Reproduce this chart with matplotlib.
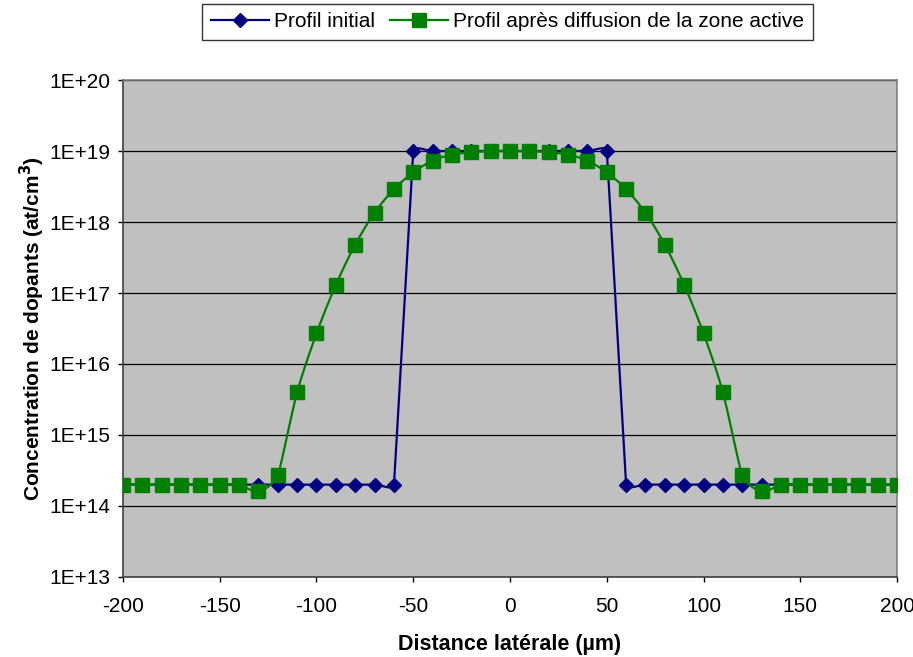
import numpy as np
import matplotlib
matplotlib.use("Agg")
import matplotlib.pyplot as plt
from matplotlib.lines import Line2D

plt.rcParams['font.family'] = ['Liberation Sans', 'DejaVu Sans']

# Data
distance = [-200, -190, -180, -170, -160, -150, -140, -130, -120, -110, -100,
            -90, -80, -70, -60, -50, -40, -30, -20, -10, 0,
            10, 20, 30, 40, 50, 60, 70, 80, 90, 100,
            110, 120, 130, 140, 150, 160, 170, 180, 190, 200]

profil_initial = [2e14, 2e14, 2e14, 2e14, 2e14, 2e14, 2e14, 2e14, 2e14, 2e14, 2e14,
                  2e14, 2e14, 2e14, 2e14, 1e19, 1e19, 1e19, 1e19, 1e19, 1e19,
                  1e19, 1e19, 1e19, 1e19, 1e19, 2e14, 2e14, 2e14, 2e14, 2e14,
                  2e14, 2e14, 2e14, 2e14, 2e14, 2e14, 2e14, 2e14, 2e14, 2e14]

profil_diffuse = [2e14, 2e14, 2e14, 2e14, 2e14, 2e14, 2e14, 1.6e14, 2.7e14, 4e15, 2.7e16,
                  1.3e17, 4.8e17, 1.35e18, 2.9e18, 5e18, 7.3e18, 8.9e18, 9.6e18, 1e19, 1e19,
                  1e19, 9.6e18, 8.9e18, 7.3e18, 5e18, 2.9e18, 1.35e18, 4.8e17, 1.3e17, 2.7e16,
                  4e15, 2.7e14, 1.6e14, 2e14, 2e14, 2e14, 2e14, 2e14, 2e14, 2e14]

x_ticks = [-200, -150, -100, -50, 0, 50, 100, 150, 200]
y_ticks = [1e13, 1e14, 1e15, 1e16, 1e17, 1e18, 1e19, 1e20]
y_labels = ["1E+13", "1E+14", "1E+15", "1E+16", "1E+17", "1E+18", "1E+19", "1E+20"]


# Excel-like smoothed line, built in approximate screen units
# (x: ~1.94 px per µm, y: ~71 px per decade)
def smooth(x, y, n=24, sx=1.935, sy=71.0):
    p = np.column_stack([np.asarray(x, float) * sx, np.log10(np.asarray(y, float)) * sy])
    m = len(p)
    seg = np.hypot(*(p[1:] - p[:-1]).T)
    tang = []
    for i in range(m):
        d = p[min(i + 1, m - 1)] - p[max(i - 1, 0)]
        tang.append(d / np.hypot(*d))
    t = np.linspace(0, 1, n)[:, None]
    pts = []
    for i in range(m - 1):
        l1 = min(seg[i], seg[i - 1]) if i > 0 else seg[i]
        l2 = min(seg[i], seg[i + 1]) if i + 1 < m - 1 else seg[i]
        c1 = p[i] + tang[i] * l1 / 3
        c2 = p[i + 1] - tang[i + 1] * l2 / 3
        b = ((1 - t) ** 3) * p[i] + 3 * ((1 - t) ** 2) * t * c1 + 3 * (1 - t) * t ** 2 * c2 + t ** 3 * p[i + 1]
        pts.append(b)
    pts = np.vstack(pts)
    return pts[:, 0] / sx, 10 ** (pts[:, 1] / sy)


fig = plt.figure(figsize=(9.13, 6.57), dpi=100)
ax = fig.add_axes([0.1347, 0.1218, 0.8478, 0.7564])
ax.set_facecolor('#C0C0C0')

navy = '#000080'
green = '#008000'

sx, sy = smooth(distance, profil_initial)
ax.plot(sx, sy, color=navy, lw=1.6, zorder=3)
ax.plot(distance, profil_initial, ls='none', marker='D', ms=7.5, color=navy, zorder=4)

sx, sy = smooth(distance, profil_diffuse)
ax.plot(sx, sy, color=green, lw=1.6, zorder=5)
ax.plot(distance, profil_diffuse, ls='none', marker='s', ms=10, color=green, zorder=6)

ax.set_yscale('log')
ax.set_xlim(-200, 200)
ax.set_ylim(1e13, 1e20)
ax.set_xticks(x_ticks)
ax.set_xticklabels([str(v) for v in x_ticks])
ax.set_yticks(y_ticks)
ax.set_yticklabels(y_labels)
ax.minorticks_off()
ax.yaxis.grid(True, color='black', lw=0.9)
ax.set_axisbelow(True)
ax.tick_params(direction='out', length=3.6, width=1, labelsize=15, colors='black')
ax.tick_params(axis='y', pad=5.5)
ax.tick_params(axis='x', pad=11)

for s in ['top', 'right']:
    ax.spines[s].set_color('#808080')
    ax.spines[s].set_linewidth(1.2)
for s in ['left', 'bottom']:
    ax.spines[s].set_color('#404040')
    ax.spines[s].set_linewidth(1.2)

ax.set_xlabel("Distance latérale (µm)", fontsize=15.5, fontweight='bold', labelpad=13)
ax.set_ylabel("Concentration de dopants (at/cm$^\\mathbf{3}$)", fontsize=15, fontweight='bold', labelpad=2)

handles = [
    Line2D([], [], color=navy, lw=1.6, marker='D', ms=7.5),
    Line2D([], [], color=green, lw=1.6, marker='s', ms=10),
]
leg = fig.legend(handles, ["Profil initial", "Profil après diffusion de la zone active"],
                 loc='center', bbox_to_anchor=(0.556, 0.967), ncol=2, fontsize=15,
                 frameon=True, fancybox=False, edgecolor='black', handlelength=2.8,
                 handletextpad=0.25, columnspacing=0.7, borderpad=0.4)
leg.get_frame().set_linewidth(1.0)

fig.savefig("out.png", dpi=100)
